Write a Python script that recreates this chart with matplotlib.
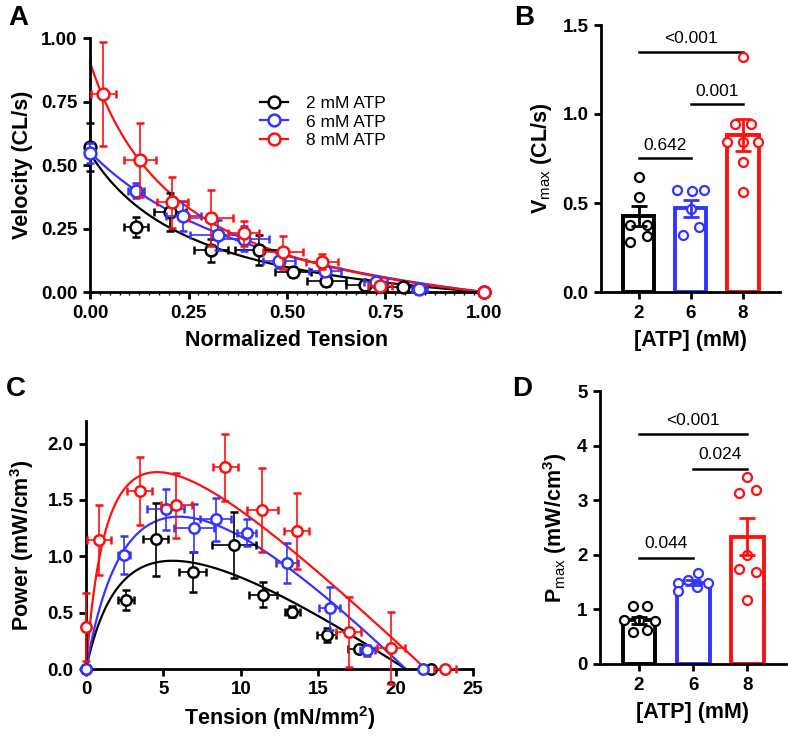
import numpy as np
import matplotlib
matplotlib.use("Agg")
import matplotlib.pyplot as plt
from matplotlib.lines import Line2D
from matplotlib.ticker import MultipleLocator

plt.rcParams['font.family'] = ['Liberation Sans', 'DejaVu Sans']
plt.rcParams['mathtext.fontset'] = 'custom'
plt.rcParams['mathtext.rm'] = 'Liberation Sans'
plt.rcParams['mathtext.bf'] = 'Liberation Sans:bold'
plt.rcParams['mathtext.it'] = 'Liberation Sans:italic'

BLACK = '#000000'
BLUE = '#3434FF'
RED = '#FF1010'
colors = [BLACK, BLUE, RED]
labels = ['2 mM ATP', '6 mM ATP', '8 mM ATP']
atp_ticks = ['2', '6', '8']

# ---------------- Panel A data: velocity vs normalized tension ----------------
a_x_2 = [0.0, 0.117, 0.203, 0.307, 0.428, 0.515, 0.600, 0.699, 0.795, 1.0]
a_y_2 = [0.570, 0.255, 0.314, 0.165, 0.165, 0.080, 0.043, 0.026, 0.018, 0.0]
a_xe_2 = [0.0, 0.03, 0.04, 0.042, 0.06, 0.045, 0.05, 0.05, 0.04, 0.0]
a_ye_2 = [0.095, 0.04, 0.075, 0.045, 0.06, 0.02, 0.02, 0.01, 0.01, 0.0]

a_x_6 = [0.0, 0.117, 0.237, 0.324, 0.390, 0.480, 0.597, 0.725, 0.836, 1.0]
a_y_6 = [0.546, 0.399, 0.300, 0.224, 0.210, 0.124, 0.082, 0.040, 0.013, 0.0]
a_xe_6 = [0.0, 0.02, 0.045, 0.07, 0.065, 0.04, 0.04, 0.03, 0.02, 0.0]
a_ye_6 = [0.04, 0.03, 0.06, 0.06, 0.05, 0.03, 0.02, 0.01, 0.005, 0.0]

a_x_8 = [0.034, 0.127, 0.209, 0.307, 0.390, 0.490, 0.589, 0.736, 1.0]
a_y_8 = [0.780, 0.520, 0.353, 0.290, 0.231, 0.156, 0.120, 0.025, 0.0]
a_xe_8 = [0.032, 0.04, 0.04, 0.055, 0.04, 0.05, 0.04, 0.03, 0.0]
a_ye_8 = [0.205, 0.145, 0.10, 0.11, 0.05, 0.065, 0.03, 0.01, 0.0]

# Hill fit parameters (a, b): V = b (1 - P) / (P + a)
hill_a = [0.28, 0.538, 0.239]
hill_b = [0.153, 0.296, 0.216]

# ---------------- Panel C data: power vs tension ----------------
c_x_2 = [0.0, 2.58, 4.49, 6.88, 9.55, 11.46, 13.33, 15.55, 17.63, 22.3]
c_y_2 = [0.0, 0.613, 1.149, 0.86, 1.10, 0.658, 0.509, 0.30, 0.18, 0.0]
c_xe_2 = [0.0, 0.5, 0.8, 0.85, 1.4, 0.9, 0.5, 0.6, 0.7, 0.0]
c_ye_2 = [0.0, 0.09, 0.32, 0.18, 0.29, 0.11, 0.05, 0.06, 0.03, 0.0]

c_x_6 = [0.0, 2.47, 5.14, 6.99, 8.39, 10.37, 13.0, 15.74, 18.17, 21.8]
c_y_6 = [0.0, 1.01, 1.417, 1.25, 1.327, 1.21, 0.94, 0.54, 0.167, 0.0]
c_xe_6 = [0.0, 0.4, 1.2, 1.3, 1.0, 0.6, 0.7, 0.7, 0.5, 0.0]
c_ye_6 = [0.0, 0.17, 0.18, 0.21, 0.19, 0.12, 0.175, 0.19, 0.05, 0.0]

c_x_8 = [0.0, 0.84, 3.48, 5.83, 8.99, 11.38, 13.6, 16.97, 19.72, 23.18]
c_y_8 = [0.37, 1.143, 1.577, 1.452, 1.789, 1.41, 1.223, 0.33, 0.19, 0.0]
c_xe_8 = [0.0, 0.8, 0.8, 1.0, 0.8, 1.0, 0.8, 0.8, 0.9, 0.7]
c_ye_8 = [0.30, 0.31, 0.30, 0.29, 0.30, 0.375, 0.335, 0.31, 0.32, 0.0]

# Power fit parameters: P = k * T * (T0 - T) / (T + a)
pow_k = [0.1015, 0.156, 0.137]
pow_a = [3.315, 4.157, 1.66]
pow_T0 = [20.66, 20.66, 21.95]

# ---------------- Panel B data: Vmax ----------------
vmax_2 = [0.644, 0.531, 0.378, 0.378, 0.279, 0.312]
vmax_6 = [0.575, 0.569, 0.575, 0.466, 0.318, 0.363]
vmax_8 = [1.322, 0.946, 0.946, 0.840, 0.840, 0.840, 0.730, 0.562]
vmax_mean = [0.425, 0.470, 0.880]
vmax_sem = [0.057, 0.048, 0.090]
vmax_p = ['0.642', '0.001', '<0.001']

# ---------------- Panel D data: Pmax ----------------
pmax_2 = [1.068, 1.068, 0.806, 0.806, 0.796, 0.580, 0.623]
pmax_6 = [1.49, 1.54, 1.66, 1.48, 1.34, 1.416]
pmax_8 = [3.42, 3.14, 3.19, 2.00, 1.74, 1.69, 1.17]
pmax_mean = [0.80, 1.49, 2.33]
pmax_sem = [0.06, 0.05, 0.34]
pmax_p = ['0.044', '0.024', '<0.001']

# jitter offsets (layout only)
jit_b = [[0, 0, -0.16, 0.16, -0.16, 0.16],
         [-0.27, 0.02, 0.26, 0.0, -0.14, 0.165],
         [0.0, -0.15, 0.15, -0.30, 0.0, 0.29, 0.0, 0.0]]
jit_d = [[-0.12, 0.14, -0.27, 0.0, 0.29, -0.12, 0.14],
         [-0.28, -0.09, 0.09, 0.28, -0.28, 0.06],
         [0.0, -0.15, 0.15, 0.0, -0.15, 0.15, 0.0]]

W, H = 788, 739
fig = plt.figure(figsize=(W / 100, H / 100), dpi=100)


def px_axes(l, t, r, b):
    return fig.add_axes([l / W, 1 - b / H, (r - l) / W, (b - t) / H])


def style(ax):
    for s in ['top', 'right']:
        ax.spines[s].set_visible(False)
    for s in ['left', 'bottom']:
        ax.spines[s].set_linewidth(2.0)
    ax.tick_params(which='major', direction='out', length=5, width=2.0,
                   labelsize=13.5, pad=4)
    for lab in ax.get_xticklabels() + ax.get_yticklabels():
        lab.set_fontweight('bold')


LBL = dict(fontsize=15.5, fontweight='bold')

# ---------------- Panel A ----------------
axA = px_axes(90, 38, 484, 292)
series_a = [(a_x_2, a_y_2, a_xe_2, a_ye_2), (a_x_6, a_y_6, a_xe_6, a_ye_6),
            (a_x_8, a_y_8, a_xe_8, a_ye_8)]
P = np.linspace(0, 1, 300)
for i, (x, y, xe, ye) in enumerate(series_a):
    axA.plot(P, hill_b[i] * (1 - P) / (P + hill_a[i]), color=colors[i], lw=1.6,
             zorder=2, clip_on=False)
for i, (x, y, xe, ye) in enumerate(series_a):
    eb = axA.errorbar(x, y, xerr=xe, yerr=ye, fmt='o', color=colors[i],
                      mfc='white', mec=colors[i], ms=8.5, mew=1.8,
                      elinewidth=1.2, capsize=3, capthick=1.2, zorder=3 + i)
    for art in eb.get_children():
        art.set_clip_on(False)
axA.set_xlim(0, 1)
axA.set_ylim(0, 1)
axA.set_xticks([0, 0.25, 0.5, 0.75, 1.0])
axA.set_yticks([0, 0.25, 0.5, 0.75, 1.0])
axA.set_xticklabels(['0.00', '0.25', '0.50', '0.75', '1.00'])
axA.set_yticklabels(['0.00', '0.25', '0.50', '0.75', '1.00'])
axA.xaxis.set_minor_locator(MultipleLocator(0.025))
axA.tick_params(axis='x', which='minor', length=2, width=1.0, direction='out')
style(axA)
axA.set_xlabel('Normalized Tension', labelpad=6, **LBL)
axA.set_ylabel('Velocity (CL/s)', labelpad=6, **LBL)
handles = [Line2D([], [], color=c, marker='o', mfc='white', mec=c, ms=8.5,
                  mew=1.8, lw=1.6) for c in colors]
axA.legend(handles, labels, loc='upper left', bbox_to_anchor=(0.415, 0.80),
           frameon=False, fontsize=12.5, handlelength=1.6, handletextpad=1.0,
           labelspacing=0.2, borderaxespad=0)

# ---------------- Panel C ----------------
axC = px_axes(86, 421, 473, 669)
series_c = [(c_x_2, c_y_2, c_xe_2, c_ye_2), (c_x_6, c_y_6, c_xe_6, c_ye_6),
            (c_x_8, c_y_8, c_xe_8, c_ye_8)]
for i in range(3):
    T = np.linspace(0, pow_T0[i], 400)
    axC.plot(T, pow_k[i] * T * (pow_T0[i] - T) / (T + pow_a[i]), color=colors[i],
             lw=1.6, zorder=2)
for i, (x, y, xe, ye) in enumerate(series_c):
    eb = axC.errorbar(x, y, xerr=xe, yerr=ye, fmt='o', color=colors[i],
                      mfc='white', mec=colors[i], ms=7.5, mew=1.8,
                      elinewidth=1.2, capsize=3, capthick=1.2, zorder=3 + i)
    for art in eb.get_children():
        art.set_clip_on(False)
axC.set_xlim(0, 25)
axC.set_ylim(0, 2.2)
axC.set_xticks([0, 5, 10, 15, 20, 25])
axC.set_yticks([0, 0.5, 1.0, 1.5, 2.0])
axC.set_yticklabels(['0.0', '0.5', '1.0', '1.5', '2.0'])
style(axC)
axC.set_xlabel('Tension (mN/mm$^{\\mathbf{2}}$)', labelpad=4, **LBL)
axC.set_ylabel('Power (mW/cm$^{\\mathbf{3}}$)', labelpad=8, **LBL)


# ---------------- Bar panels ----------------
def bar_panel(ax, groups, means, sems, jits, pvals, sig_y, txt_off, ylim, yticks,
              yticklabels, ylabel):
    xs = np.arange(3)
    for i in range(3):
        ax.bar(xs[i], means[i], width=0.6, facecolor='white', edgecolor=colors[i],
               linewidth=2.8, zorder=2)
        ax.scatter(xs[i] + np.array(jits[i]), groups[i], s=42, facecolor='white',
                   edgecolor=colors[i], linewidth=1.6, zorder=4, clip_on=False)
        ax.errorbar(xs[i], means[i], yerr=sems[i], fmt='none', ecolor=colors[i] if i else BLACK,
                    elinewidth=2.0, capsize=6, capthick=2.0, zorder=5)
    pairs = [(0, 1), (1, 2), (0, 2)]
    for (a, b), p, yy in zip(pairs, pvals, sig_y):
        ax.plot([a, b], [yy, yy], color='black', lw=1.8, zorder=3)
        ax.text((a + b) / 2, yy + txt_off, p, ha='center', va='bottom', fontsize=12.5)
    ax.set_xlim(-0.72, 2.71)
    ax.set_ylim(*ylim)
    ax.set_xticks(xs)
    ax.set_xticklabels(atp_ticks)
    ax.set_yticks(yticks)
    ax.set_yticklabels(yticklabels)
    style(ax)
    ax.set_xlabel('[ATP] (mM)', labelpad=6, **LBL)
    ax.set_ylabel(ylabel, labelpad=6, **LBL)


axB = px_axes(601, 25, 780, 292)
bar_panel(axB, [vmax_2, vmax_6, vmax_8], vmax_mean, vmax_sem, jit_b, vmax_p,
          [0.752, 1.055, 1.35], 0.03, (0, 1.5), [0, 0.5, 1.0, 1.5],
          ['0.0', '0.5', '1.0', '1.5'], 'V$_{\\mathrm{max}}$ (CL/s)')

axD = px_axes(600, 391, 786, 664)
bar_panel(axD, [pmax_2, pmax_6, pmax_8], pmax_mean, pmax_sem, jit_d, pmax_p,
          [1.95, 3.58, 4.21], 0.12, (0, 5), [0, 1, 2, 3, 4, 5],
          ['0', '1', '2', '3', '4', '5'], 'P$_{\\mathrm{max}}$ (mW/cm$^{\\mathbf{3}}$)')

# panel letters
for letter, x, y in [('A', 8, 18), ('B', 514, 18), ('C', 6, 389), ('D', 512, 389)]:
    fig.text(x / W, 1 - y / H, letter, fontsize=20, fontweight='bold',
             ha='left', va='center')

fig.savefig('out.png', dpi=100)
